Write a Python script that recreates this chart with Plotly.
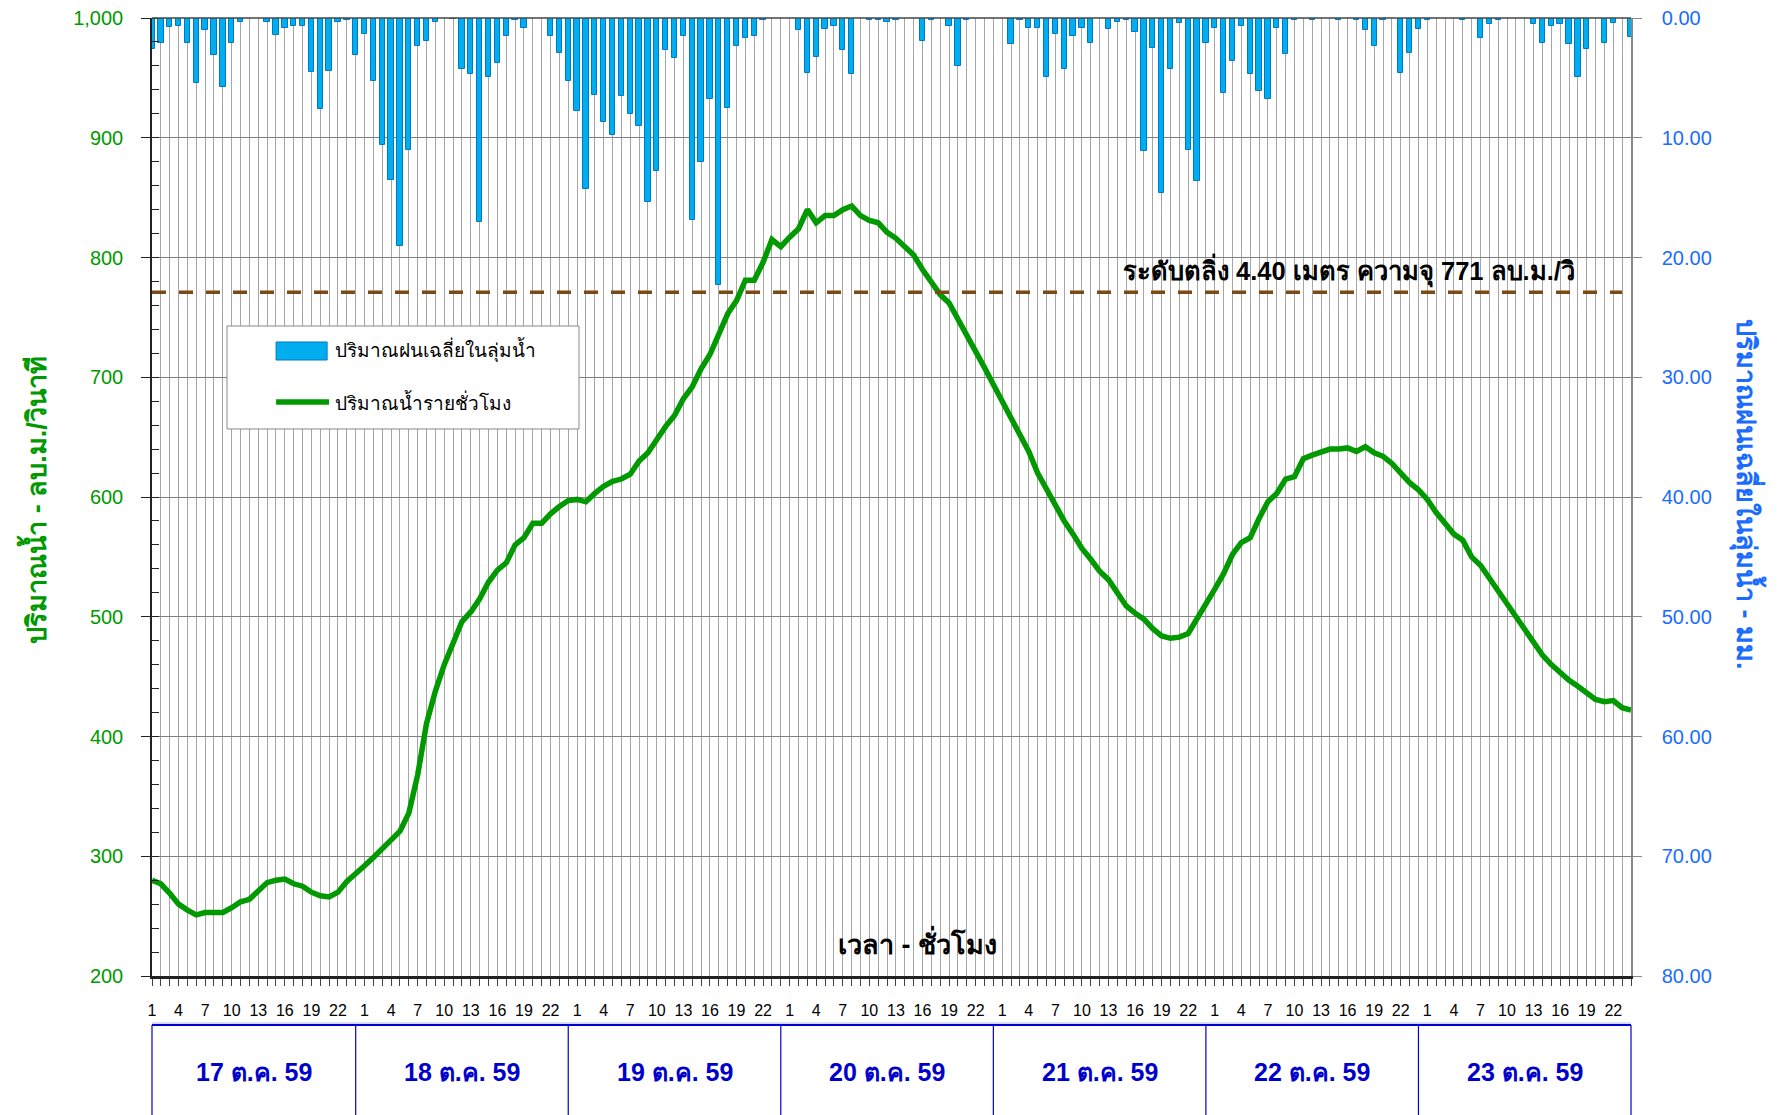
import plotly.graph_objects as go

# ---------------- data ----------------
days = ["17 ต.ค. 59", "18 ต.ค. 59", "19 ต.ค. 59", "20 ต.ค. 59",
        "21 ต.ค. 59", "22 ต.ค. 59", "23 ต.ค. 59"]
hours = list(range(1, 25))
hour_tick_labels = [1, 4, 7, 10, 13, 16, 19, 22]

rain_mm = [
    2.6, 2.1, 0.75, 0.65, 2.1, 5.4, 1.0, 3.1, 5.8, 2.1, 0.33, 0,
    0, 0.33, 1.4, 0.8, 0.7, 0.65, 4.5, 7.6, 4.4, 0.33, 0.2, 3.1,
    1.3, 5.3, 10.6, 13.5, 19.0, 11.0, 2.3, 1.9, 0.33, 0, 0.1, 4.25,
    4.7, 17.0, 4.9, 3.75, 1.5, 0.2, 0.8, 0, 0, 1.5, 2.9, 5.3,
    7.75, 14.3, 6.4, 8.7, 9.8, 6.5, 8.0, 9.0, 15.4, 12.8, 2.7, 3.3,
    1.5, 16.9, 12.0, 6.75, 22.3, 7.5, 2.3, 1.7, 1.5, 0.15, 0, 0,
    0, 1.0, 4.6, 3.25, 0.9, 0.65, 2.7, 4.7, 0, 0.15, 0.2, 0.3,
    0.15, 0, 0, 1.9, 0.15, 0, 0.65, 4.0, 0.15, 0, 0, 0,
    0, 2.2, 0.15, 0.8, 0.8, 4.9, 1.3, 4.3, 1.5, 0.8, 2.1, 0,
    0.9, 0.3, 0.15, 1.2, 11.1, 2.5, 14.6, 4.3, 0.4, 11.0, 13.6, 2.1,
    0.8, 6.25, 3.6, 0.65, 4.7, 6.1, 6.75, 0.8, 3.0, 0.15, 0, 0.15,
    0, 0, 0.15, 0, 0.2, 1.0, 2.3, 0.15, 0, 4.6, 2.9, 0.9,
    0.2, 0, 0, 0, 0.2, 0, 1.7, 0.5, 0.15, 0, 0, 0,
    0.5, 2.1, 0.65, 0.5, 2.2, 4.9, 2.6, 0, 2.1, 0.4, 0, 1.6,
]

flow_cms = [
    280, 277, 269, 260, 255, 251, 253, 253, 253, 257, 262, 264,
    271, 278, 280, 281, 277, 275, 270, 267, 266, 270, 279, 285,
    292, 299, 306, 313, 321, 336, 368, 411, 438, 460, 477, 496,
    504, 515, 529, 539, 545, 560, 566, 578, 578, 586, 592, 597,
    598, 596, 603, 609, 613, 615, 619, 630, 637, 649, 659, 668,
    682, 692, 707, 719, 736, 753, 764, 781, 781, 796, 815, 809,
    817, 824, 840, 829, 835, 835, 840, 843, 835, 831, 829, 821,
    816, 809, 802, 790, 779, 769, 762, 749, 736, 721, 708, 694,
    680, 664, 651, 638, 620, 606, 592, 580, 569, 557, 548, 538,
    531, 520, 509, 503, 498, 490, 484, 482, 483, 486, 498, 509,
    523, 536, 552, 562, 566, 582, 596, 603, 615, 617, 632, 635,
    637, 640, 640, 641, 638, 642, 637, 634, 628, 620, 612, 606,
    598, 587, 578, 569, 564, 550, 543, 532, 521, 511, 500, 489,
    479, 468, 460, 453, 447, 442, 437, 431, 429, 430, 424, 422,
]

bank_level = 771
bank_text = "ระดับตลิ่ง 4.40 เมตร ความจุ 771 ลบ.ม./วิ"

# ---------------- derived positions ----------------
x_idx = [d * 24 + (h - 1) for d in range(len(days)) for h in hours]
x_max = x_idx[-1]
tickvals = [d * 24 + (h - 1) for d in range(len(days)) for h in hour_tick_labels]
ticktext = [str(h) for d in range(len(days)) for h in hour_tick_labels]

FONT = "Liberation Sans, Arial, sans-serif"
GREEN = "#009a00"
BLUE_AX = "#1a6cff"
DATE_BLUE = "#0000cc"

fig = go.Figure()

fig.add_trace(go.Bar(
    x=x_idx, y=rain_mm, yaxis="y2", width=0.6,
    marker=dict(color="#00aeef", line=dict(color="#0078c8", width=1)),
    name="ปริมาณฝนเฉลี่ยในลุ่มน้ำ", showlegend=False,
))
fig.add_trace(go.Scatter(
    x=x_idx, y=flow_cms, mode="lines",
    line=dict(color=GREEN, width=5.5),
    name="ปริมาณน้ำรายชั่วโมง", showlegend=False,
))
# bank level dashed line
fig.add_trace(go.Scatter(
    x=[x_idx[0], x_idx[-2]], y=[bank_level, bank_level], mode="lines",
    line=dict(color="#7a4a14", width=3.5, dash="14px,13px"),
    showlegend=False, hoverinfo="skip",
))

fig.update_layout(
    width=1780, height=1115,
    margin=dict(l=144, r=157, t=10, b=147, autoexpand=False),
    paper_bgcolor="white", plot_bgcolor="white",
    font=dict(family=FONT, color="black"),
    bargap=0,
    xaxis=dict(
        range=[0, x_max], tickmode="array", tickvals=tickvals, ticktext=ticktext,
        automargin=False,
        showgrid=True, gridcolor="#a6a6a6", gridwidth=1,
        minor=dict(dtick=1, tick0=0, showgrid=True, gridcolor="#a6a6a6",
                   gridwidth=1, ticks="outside", ticklen=7, tickcolor="#444"),
        ticks="outside", ticklen=7, tickcolor="#444",
        ticklabelstandoff=11,
        tickfont=dict(size=16, color="black"),
        showline=True, linecolor="#222", linewidth=2.5,
        zeroline=False,
    ),
    yaxis=dict(
        range=[200, 1000], dtick=100, tickformat=",",
        automargin=False, ticklabeloverflow="allow",
        showgrid=True, gridcolor="#808080", gridwidth=1.2,
        ticks="outside", ticklen=9, tickcolor="#222",
        minor=dict(dtick=20, ticks="inside", ticklen=7, tickcolor="#222", showgrid=False),
        tickfont=dict(size=20, color=GREEN),
        ticklabelstandoff=14,
        showline=True, linecolor="#222", linewidth=1.5,
        zeroline=False,
    ),
    yaxis2=dict(
        range=[80, 0], dtick=10, tickformat=".2f",
        overlaying="y", side="right", automargin=False, ticklabeloverflow="allow",
        showgrid=False, zeroline=False,
        ticks="outside", ticklen=9, tickcolor="#888",
        tickfont=dict(size=20, color=BLUE_AX),
        ticklabelstandoff=16,
        showline=True, linecolor="#888", linewidth=1.5,
    ),
)

# top border line (1000 level)
fig.add_shape(type="line", xref="paper", yref="paper", x0=0, x1=1, y0=1, y1=1,
              line=dict(color="#444", width=1.5))

# axis titles
fig.add_annotation(text="<b>ปริมาณน้ำ - ลบ.ม./วินาที</b>", xref="paper", yref="paper",
                   x=-0.0798, y=0.497, textangle=-90, showarrow=False,
                   font=dict(size=27, color=GREEN), xanchor="center", yanchor="middle")
fig.add_annotation(text="<b>ปริมาณฝนเฉลี่ยในลุ่มน้ำ - มม.</b>", xref="paper", yref="paper",
                   x=1.0791, y=0.502, textangle=90, showarrow=False,
                   font=dict(size=27, color=BLUE_AX), xanchor="center", yanchor="middle")
fig.add_annotation(text="<b>เวลา - ชั่วโมง</b>", x=86.4, y=228, xref="x", yref="y",
                   xanchor="center", yanchor="middle",
                   showarrow=False, font=dict(size=27, color="black"))
fig.add_annotation(text="<b>" + bank_text + "</b>", x=135.2, y=bank_level + 2,
                   xref="x", yref="y", xanchor="center", yanchor="bottom", showarrow=False,
                   font=dict(size=25.5, color="black"))

# manual legend
fig.add_shape(type="rect", xref="paper", yref="paper", x0=0.0507, x1=0.2887,
              y0=0.571, y1=0.6785, line=dict(color="#888", width=1), fillcolor="white",
              layer="above")
fig.add_shape(type="rect", xref="paper", yref="paper", x0=0.0839, x1=0.1184,
              y0=0.643, y1=0.6618, line=dict(color="#0078c8", width=1), fillcolor="#00aeef",
              layer="above")
fig.add_shape(type="line", xref="paper", yref="paper", x0=0.0839, x1=0.1197,
              y0=0.5992, y1=0.5992, line=dict(color=GREEN, width=5.5), layer="above")
fig.add_annotation(text="ปริมาณฝนเฉลี่ยในลุ่มน้ำ", xref="paper", yref="paper",
                   x=0.1224, y=0.6534, xanchor="left", yanchor="middle", showarrow=False,
                   font=dict(size=19, color="black"))
fig.add_annotation(text="ปริมาณน้ำรายชั่วโมง", xref="paper", yref="paper",
                   x=0.1224, y=0.5992, xanchor="left", yanchor="middle", showarrow=False,
                   font=dict(size=19, color="black"))

# date boxes below axis
box_top = -0.0511
fig.add_shape(type="line", xref="paper", yref="paper", x0=0, x1=1, y0=box_top + 0.002,
              y1=box_top + 0.002, line=dict(color="#b0b8ff", width=1))
fig.add_shape(type="line", xref="paper", yref="paper", x0=0, x1=1, y0=box_top, y1=box_top,
              line=dict(color=DATE_BLUE, width=2))
bounds = [0] + [d * 24 + 23 for d in range(len(days) - 1)] + [x_max]
for b in bounds:
    fig.add_shape(type="line", xref="paper", yref="paper", x0=b / x_max, x1=b / x_max,
                  y0=box_top, y1=-0.2, line=dict(color=DATE_BLUE, width=1.2))
for d, label in enumerate(days):
    cx = (bounds[d] + bounds[d + 1]) / 2 / x_max
    fig.add_annotation(text="<b>" + label + "</b>", xref="paper", yref="paper",
                       x=cx, y=-0.1002, xanchor="center", yanchor="middle", showarrow=False,
                       font=dict(size=25, color=DATE_BLUE))

fig.write_html("out.html")
